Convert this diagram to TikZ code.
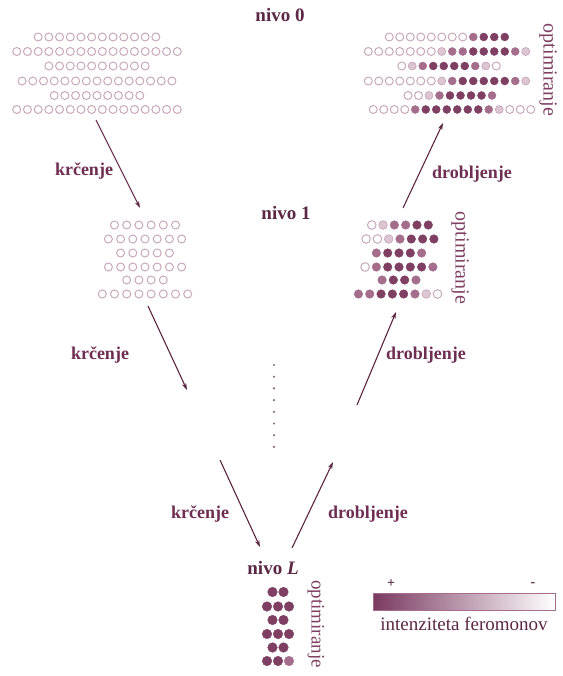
\documentclass[tikz,border=0pt]{standalone}
\usepackage{fontspec}
\setmainfont{Liberation Serif}
\usetikzlibrary{arrows.meta}
\definecolor{txt}{HTML}{5A2745}
\definecolor{lbl}{HTML}{6E2E52}
\definecolor{arr}{HTML}{5C2442}
\definecolor{cOpen}{HTML}{C9A9BA}
\definecolor{cL}{HTML}{C7A0B5}
\definecolor{cM}{HTML}{A56D8C}
\definecolor{cD}{HTML}{7E3F63}
\definecolor{barD}{HTML}{7A3A60}
\tikzset{
  lv0/.style={draw=cOpen,fill=white,line width=1pt},
  lv1/.style={draw=cL,fill=cL!60,line width=0.6pt},
  lv2/.style={draw=cM,fill=cM,line width=0.4pt},
  lv3/.style={draw=cD,fill=cD,line width=0.4pt},
  arrowline/.style={draw=arr,line width=1.1pt,-{Stealth[length=7pt,width=4.5pt]}},
  levtext/.style={text=txt,font=\fontsize{19}{22}\selectfont\bfseries},
  optext/.style={text=cD,font=\fontsize{20}{22}\selectfont,rotate=-90},
  kr/.style={text=lbl,font=\fontsize{18}{21}\selectfont\bfseries},
}
\newcommand\dotrow[6]{%
  \foreach \l [count=\i] in {#6}{%
    \path[lv\l] ({#1+(\i-1-(#5-1)/2)*#3},#2) circle[radius=#4];}}
\begin{document}
\begin{tikzpicture}[x=1pt,y=-1pt]
\useasboundingbox (0,0) rectangle (562,676);
% ---------- level texts
\node[levtext] (n0) at (280,15) {nivo 0};
\node[levtext] (n1) at (286,213) {nivo 1};
\node[levtext] (nL) at (273,568) {nivo \textit{L}};
% ---------- top-left grid
\dotrow{97}{37}{10.7}{4pt}{12}{0,0,0,0,0,0,0,0,0,0,0,0}
\dotrow{97}{51.5}{10.7}{4pt}{16}{0,0,0,0,0,0,0,0,0,0,0,0,0,0,0,0}
\dotrow{97}{66}{10.7}{4pt}{10}{0,0,0,0,0,0,0,0,0,0}
\dotrow{97}{81}{10.7}{4pt}{15}{0,0,0,0,0,0,0,0,0,0,0,0,0,0,0}
\dotrow{97}{95.5}{10.7}{4pt}{9}{0,0,0,0,0,0,0,0,0}
\dotrow{97}{109.5}{10.7}{4pt}{16}{0,0,0,0,0,0,0,0,0,0,0,0,0,0,0,0}
% ---------- top-right grid
\dotrow{447}{37}{10.5}{4pt}{12}{0,0,0,0,0,0,0,0,2,3,3,3}
\dotrow{447}{51.5}{10.5}{4pt}{16}{0,0,0,0,0,0,0,1,2,2,3,3,3,3,2,1}
\dotrow{449}{66}{10.5}{4pt}{10}{0,1,2,3,3,3,3,2,1,0}
\dotrow{447}{81}{10.5}{4pt}{16}{0,0,0,0,0,0,0,1,2,3,3,3,3,3,2,1}
\dotrow{450}{95.5}{10.5}{4pt}{9}{0,0,1,2,3,3,3,3,2}
\dotrow{452}{109.5}{10.5}{4pt}{16}{0,0,0,0,2,3,3,3,3,3,3,2,1,0,0,0}
\node[optext] (op0) at (548,70) {optimiranje};
% ---------- middle-left grid
\dotrow{145}{225}{12.2}{4pt}{6}{0,0,0,0,0,0}
\dotrow{145}{239}{12.2}{4pt}{7}{0,0,0,0,0,0,0}
\dotrow{145}{253}{12.2}{4pt}{5}{0,0,0,0,0}
\dotrow{145}{267}{12.2}{4pt}{7}{0,0,0,0,0,0,0}
\dotrow{145}{280}{12.2}{4pt}{4}{0,0,0,0}
\dotrow{145}{294}{12.2}{4pt}{8}{0,0,0,0,0,0,0,0}
% ---------- middle-right grid
\dotrow{400}{225}{11.3}{4.3pt}{6}{0,1,2,2,3,3}
\dotrow{400}{239}{11.3}{4.3pt}{7}{0,0,1,2,3,3,3}
\dotrow{399}{253}{11.3}{4.3pt}{5}{2,3,3,3,2}
\dotrow{399}{267}{11.3}{4.3pt}{7}{0,2,3,3,3,3,2}
\dotrow{399}{280}{11.3}{4.3pt}{4}{2,3,3,2}
\dotrow{398}{294}{11.3}{4.3pt}{8}{2,2,3,3,3,2,1,0}
\node[optext] (op1) at (460,258) {optimiranje};
% ---------- bottom grid
\dotrow{278}{592}{11}{4.8pt}{2}{3,3}
\dotrow{278}{606.5}{11}{4.8pt}{3}{3,3,3}
\dotrow{278}{620}{11}{4.8pt}{2}{3,3}
\dotrow{278}{634}{11}{4.8pt}{3}{3,3,3}
\dotrow{278}{647.5}{11}{4.8pt}{2}{3,3}
\dotrow{278}{661}{11}{4.8pt}{3}{3,3,2}
\node[optext,font=\fontsize{19}{22}\selectfont] (opL) at (316,624) {optimiranje};
% ---------- dotted line
\foreach \k in {0,...,7}{\fill[arr!70] (274,{365+\k*11.7}) circle[radius=1.2pt];}
% ---------- arrow end points
\coordinate (a1s) at (96,120);  \coordinate (a1e) at (140,208);
\coordinate (a2s) at (148,306); \coordinate (a2e) at (187,390);
\coordinate (a3s) at (220,460); \coordinate (a3e) at (260,547);
\coordinate (b3s) at (292,548); \coordinate (b3e) at (333,462);
\coordinate (b2s) at (357,405); \coordinate (b2e) at (396,312);
\coordinate (b1s) at (403,208); \coordinate (b1e) at (443,123);
\draw[arrowline] (a1s) -- (a1e);
\draw[arrowline] (a2s) -- (a2e);
\draw[arrowline] (a3s) -- (a3e);
\draw[arrowline] (b3s) -- (b3e);
\draw[arrowline] (b2s) -- (b2e);
\draw[arrowline] (b1s) -- (b1e);
% ---------- arrow labels
\node[kr] (k1) at (84,171) {krčenje};
\node[kr] (k2) at (100,355) {krčenje};
\node[kr] (k3) at (200,514) {krčenje};
\node[kr] (d3) at (368,514) {drobljenje};
\node[kr] (d2) at (426,355) {drobljenje};
\node[kr] (d1) at (472,174) {drobljenje};
% ---------- legend
\shade[left color=barD,right color=white,draw=cM,line width=0.6pt] (373,593) rectangle (555,610);
\node[text=txt,font=\fontsize{14}{16}\selectfont\bfseries] (plus) at (391,584) {+};
\node[text=txt,font=\fontsize{14}{16}\selectfont\bfseries] (minus) at (533,585) {-};
\node[text=txt,font=\fontsize{19}{22}\selectfont] (leg) at (464,624) {intenziteta feromonov};
\end{tikzpicture}
\end{document}
